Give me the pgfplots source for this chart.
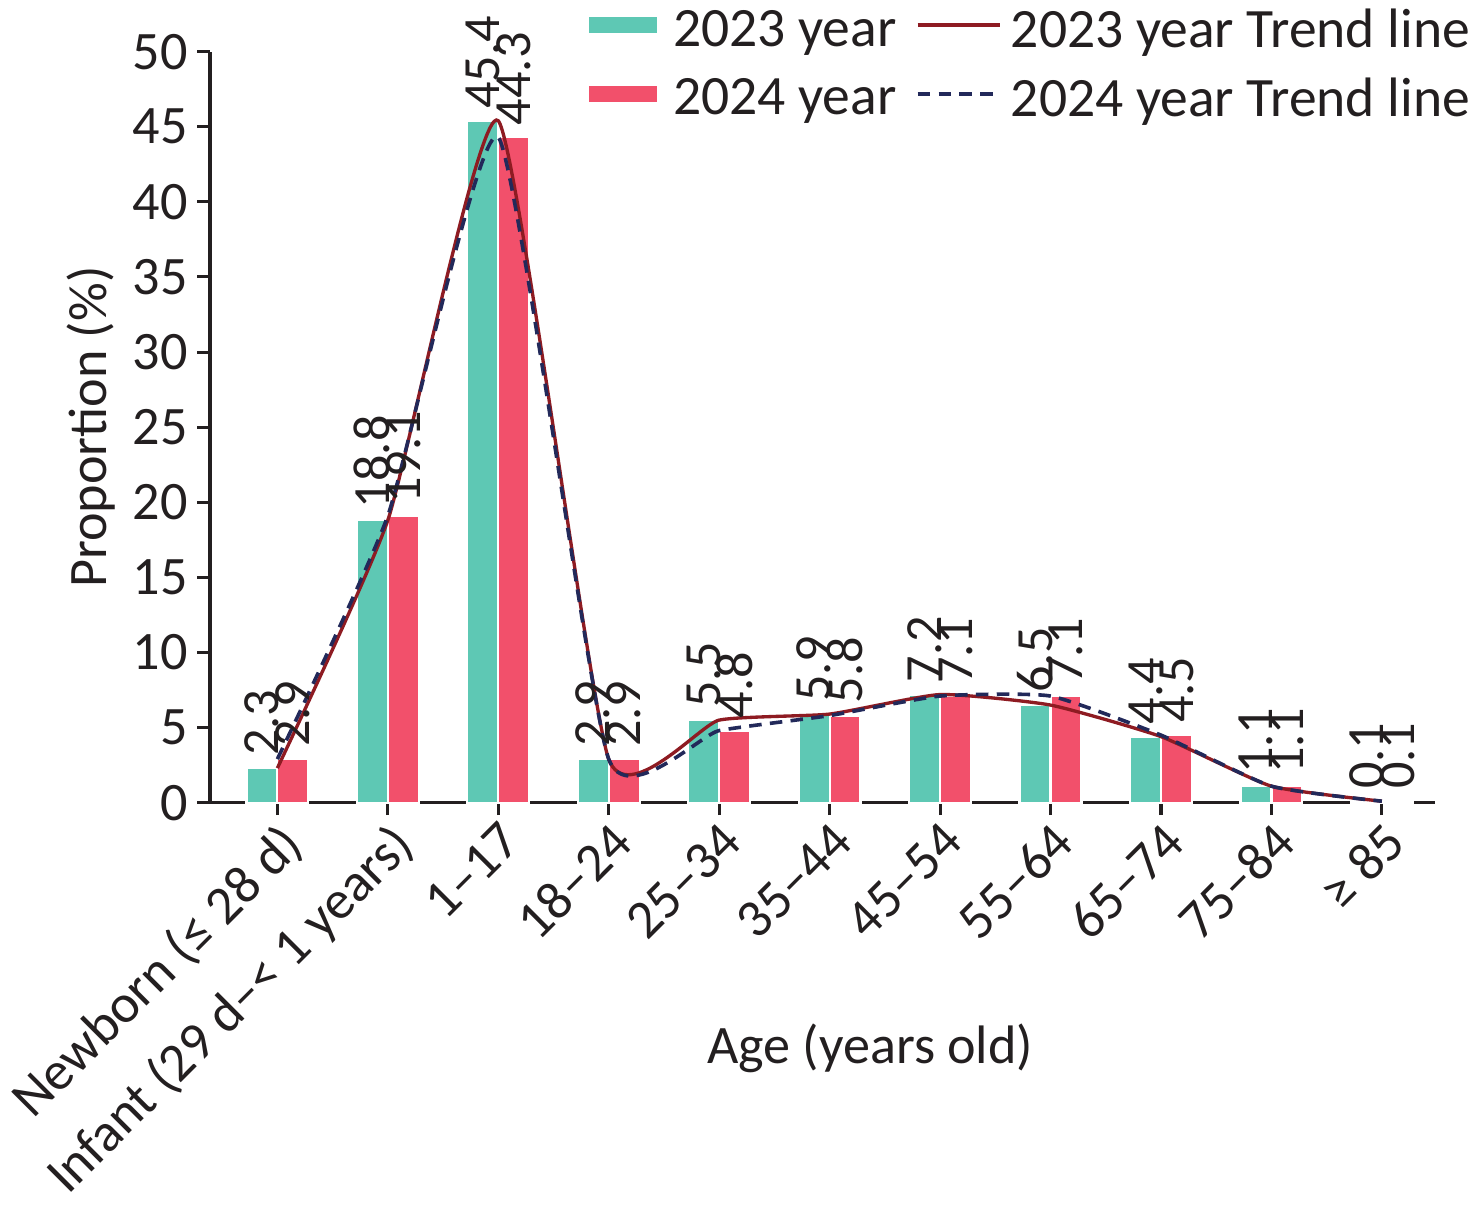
\documentclass[border=0pt]{standalone}
\usepackage{fontspec}
\setmainfont{Carlito}
\usepackage{pgfplots}
\pgfplotsset{compat=1.18}
\definecolor{c23}{HTML}{5EC8B4}
\definecolor{c24}{HTML}{F2506B}
\definecolor{t23}{HTML}{8E1B22}
\definecolor{t24}{HTML}{22295A}
\definecolor{axc}{HTML}{231F20}
\newcommand{\fs}{\fontsize{19.5}{23.4}\selectfont}
\newcommand{\fl}{\fontsize{20}{24}\selectfont}
\newcommand{\fb}{\fontsize{18.8}{22.5}\selectfont}
\begin{document}
\begin{tikzpicture}
\begin{axis}[name=ax, scale only axis, width=441pt, height=270.4pt,
  xmin=-0.61, xmax=10.48, ymin=0, ymax=50,
  ytick={0,5,...,50}, xtick={0,...,10},
  xticklabels={Newborn (≤ 28 d), Infant (29 d–< 1 years), 1–17, 18–24, 25–34, 35–44, 45–54, 55–64, 65–74, 75–84, ≥ 85},
  axis x line*=bottom, axis y line*=left,
  axis line style={axc, line width=1.1pt},
  tick style={axc, line width=1.1pt},
  tick align=outside, major tick length=4.5pt,
  xticklabel style={rotate=45, anchor=north east, font=\fs, inner sep=1pt, text=axc},
  yticklabel style={font=\fs, text=axc},
  /pgf/number format/assume math mode=true,
  xlabel={Age (years old)}, ylabel={Proportion (\%)},
  xlabel style={at={(axis description cs:0.539,-0.3266)}, anchor=center, font=\fs, text=axc},
  ylabel style={at={(axis description cs:-0.0971,0.5)}, anchor=center, font=\fs, text=axc},
  clip=false,
  legend columns=2,
  legend cell align=left,
  legend style={draw=none, fill=none, at={(axis description cs:1.029,1.0575)}, anchor=north east,
    inner sep=0pt, font=\fl, text=axc, nodes={inner sep=0pt}, row sep=9.3pt,
    /tikz/every odd column/.append style={column sep=3.4pt},
    /tikz/every even column/.append style={column sep=7pt}},
]
\addlegendimage{legend image code/.code={\fill[c23] (0pt,-0.8pt) rectangle (24.1pt,4.6pt); \path (26.6pt,0pt);}}
\addlegendentry{2023 year}
\addlegendimage{legend image code/.code={\draw[t23, line width=1.2pt] (0pt,1.9pt) -- (29.5pt,1.9pt);}}
\addlegendentry{2023 year Trend line}
\addlegendimage{legend image code/.code={\fill[c24] (0pt,-0.8pt) rectangle (24.1pt,4.6pt); \path (26.6pt,0pt);}}
\addlegendentry{2024 year}
\addlegendimage{legend image code/.code={\draw[t24, line width=1.3pt, dash pattern=on 4.5pt off 3pt] (0pt,1.9pt) -- (29.5pt,1.9pt);}}
\addlegendentry{2024 year Trend line}

\addplot[ybar, forget plot, bar width=0.28, bar shift=-0.14, fill=c23, draw=white, line width=0.8pt,
  nodes near coords, every node near coord/.append style={xshift=-5.57pt, yshift=2pt, rotate=90, anchor=west, font=\fb, text=axc, inner sep=2pt}]
  coordinates {(0,2.3) (1,18.8) (2,45.4) (3,2.9) (4,5.5) (5,5.9) (6,7.2) (7,6.5) (8,4.4) (9,1.1) (10,0.1)};
\addplot[ybar, forget plot, bar width=0.28, bar shift=0.14, fill=c24, draw=white, line width=0.8pt,
  nodes near coords, every node near coord/.append style={xshift=5.57pt, yshift=2pt, rotate=90, anchor=west, font=\fb, text=axc, inner sep=2pt}]
  coordinates {(0,2.9) (1,19.1) (2,44.3) (3,2.9) (4,4.8) (5,5.8) (6,7.1) (7,7.1) (8,4.5) (9,1.1) (10,0.1)};
\addplot[forget plot, smooth, tension=0.3, t23, line width=1.2pt]
  coordinates {(0,2.3) (1,18.8) (2,45.4) (3,2.9) (4,5.5) (5,5.9) (6,7.2) (7,6.5) (8,4.4) (9,1.1) (10,0.1)};
\addplot[forget plot, smooth, tension=0.3, t24, line width=1.3pt, dash pattern=on 4.5pt off 3pt]
  coordinates {(0,2.9) (1,19.1) (2,44.3) (3,2.9) (4,4.8) (5,5.8) (6,7.1) (7,7.1) (8,4.5) (9,1.1) (10,0.1)};
\end{axis}
\pgfresetboundingbox
\path[use as bounding box] ([shift={(-75.6pt,-148.4pt)}]ax.south west) rectangle ([shift={(14.8pt,18.6pt)}]ax.north east);
\end{tikzpicture}
\end{document}
